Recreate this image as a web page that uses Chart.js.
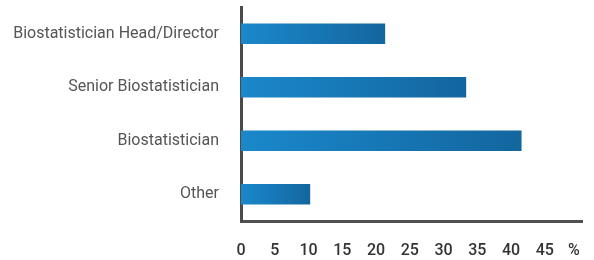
<!DOCTYPE html>
<html>
<head>
<meta charset="utf-8">
<script src="https://cdn.jsdelivr.net/npm/chart.js@4"></script>
<style>
  html, body { margin: 0; padding: 0; background: #fff; }
  #wrap { width: 594px; height: 260px; }
</style>
</head>
<body>
<div id="wrap"><canvas id="barChart" width="594" height="260"></canvas></div>
<script>
// data
var categories = ['Biostatistician Head/Director', 'Senior Biostatistician', 'Biostatistician', 'Other'];
var values = [21.3, 33.3, 41.5, 10.2];
var tickValues = [0, 5, 10, 15, 20, 25, 30, 35, 40, 45];
var unitTick = 49.3; // where the "%" sign sits on the axis

function barGradient(c) {
  var chart = c.chart;
  if (!chart.chartArea || !chart.scales.x) return '#1a7fc0';
  var x = chart.scales.x;
  var x0 = x.getPixelForValue(0);
  var x1 = x.getPixelForValue(c.raw);
  var g = chart.ctx.createLinearGradient(x0, 0, x1, 0);
  g.addColorStop(0, '#1a88ca');
  g.addColorStop(0.5, '#1777b6');
  g.addColorStop(1, '#13669e');
  return g;
}

var ctx = document.getElementById('barChart').getContext('2d');
new Chart(ctx, {
  type: 'bar',
  data: {
    labels: categories,
    datasets: [{
      data: values,
      backgroundColor: barGradient,
      borderWidth: 0,
      barThickness: 20
    }]
  },
  options: {
    indexAxis: 'y',
    responsive: false,
    animation: false,
    layout: { padding: { top: 7, right: 12, left: 0, bottom: 0 } },
    plugins: { legend: { display: false }, tooltip: { enabled: false } },
    scales: {
      x: {
        type: 'linear',
        min: 0,
        max: 50.5,
        grid: { display: false, drawTicks: false },
        border: { display: true, color: '#505050', width: 3 },
        afterBuildTicks: function (axis) {
          axis.ticks = tickValues.concat([unitTick]).map(function (v) { return { value: v }; });
        },
        afterFit: function (axis) {
          axis.height = 39;
          axis.paddingLeft = 0;
          axis.paddingRight = 0;
        },
        ticks: {
          padding: 20,
          maxRotation: 0,
          autoSkip: false,
          color: '#333333',
          font: { family: 'Roboto', size: 16, weight: '500' },
          callback: function (v) { return v > 48 ? '%' : v; }
        }
      },
      y: {
        grid: { display: false, drawTicks: false },
        border: { display: true, color: '#4a4a4a', width: 3 },
        afterFit: function (axis) {
          axis.width = 241;
          axis.paddingTop = 0;
          axis.paddingBottom = 0;
        },
        ticks: {
          padding: 22,
          color: '#555555',
          font: { family: 'Roboto', size: 16 }
        }
      }
    }
  }
});
</script>
</body>
</html>
